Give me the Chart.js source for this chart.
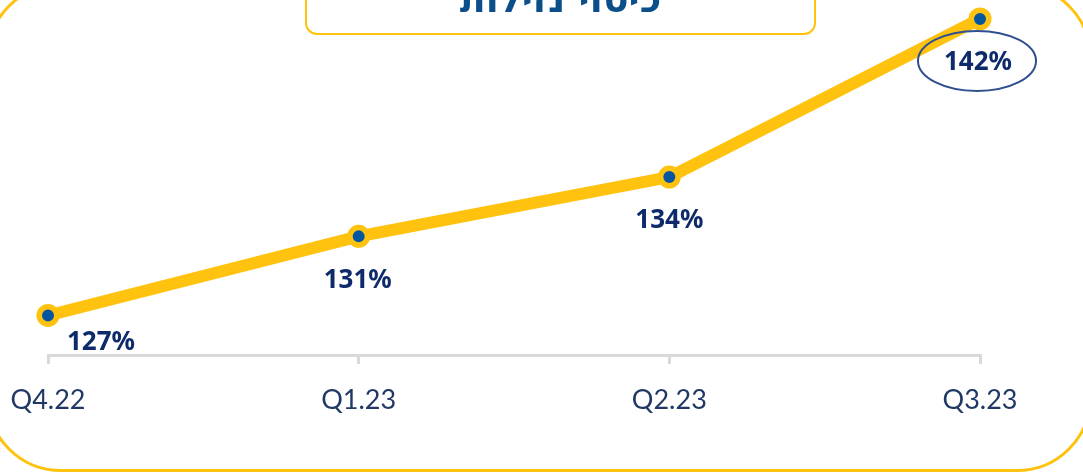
<!DOCTYPE html>
<html>
<head>
<meta charset="utf-8">
<script src="https://cdn.jsdelivr.net/npm/chart.js@4.4.0/dist/chart.umd.min.js"></script>
<style>
  html, body { margin:0; padding:0; background:#fff; width:1083px; height:472px; overflow:hidden; position:relative; }
  #frame { position:absolute; left:-14px; top:-17px; width:1106px; height:489px; border:3px solid #FFC20E; border-radius:75px; box-sizing:border-box; }
  #titlebox { position:absolute; left:305px; top:-20px; width:511px; height:55px; border:2.5px solid #FFC20E; border-radius:12px; box-sizing:border-box; background:#fff; }
  #title { position:absolute; left:305px; width:511px; top:-24px; text-align:center; font-family:"DejaVu Sans", "Liberation Sans", sans-serif; font-weight:bold; font-size:38px; color:#0B4F8A; direction:rtl; line-height:46px; }
  #wrap { position:absolute; left:0; top:0; width:1083px; height:472px; }
</style>
</head>
<body>
<div id="frame"></div>
<div id="wrap"><canvas id="c" width="1083" height="472"></canvas></div>
<div id="titlebox"></div>
<div id="title">כיסוי נזילות</div>
<script>
const categories = ["Q4.22", "Q1.23", "Q2.23", "Q3.23"];
const coverageValues = [127, 131, 134, 142];
const valueLabels = ["127%", "131%", "134%", "142%"];

const labelOffsets = [[53, 27], [-1, 44], [0, 44], [-2, 44]];
const YELLOW = "#FFC20E";

const valueLabelPlugin = {
  id: "valueLabels",
  afterDatasetsDraw(chart) {
    const ctx = chart.ctx;
    const meta = chart.getDatasetMeta(0);
    ctx.save();
    ctx.font = "bold 26px 'Noto Sans', sans-serif";
    ctx.fillStyle = "#0D2A6B";
    ctx.textAlign = "center";
    ctx.textBaseline = "middle";
    meta.data.forEach((pt, i) => {
      const x = pt.x + labelOffsets[i][0];
      const y = pt.y + labelOffsets[i][1];
      ctx.fillText(valueLabels[i], x, y);
      if (i === meta.data.length - 1) {
        ctx.beginPath();
        ctx.ellipse(x - 1, y - 2, 59, 30, 0, 0, Math.PI * 2);
        ctx.lineWidth = 2;
        ctx.strokeStyle = "#2F4F8F";
        ctx.stroke();
      }
    });
    ctx.restore();
  }
};

new Chart(document.getElementById("c"), {
  type: "line",
  data: {
    labels: categories,
    datasets: [{
      data: coverageValues,
      borderColor: YELLOW,
      borderWidth: 12,
      tension: 0,
      pointRadius: 8.75,
      pointBorderWidth: 5.5,
      pointBackgroundColor: "#0556A0",
      pointBorderColor: YELLOW,
      clip: false
    }]
  },
  options: {
    responsive: false,
    animation: false,
    events: [],
    layout: { autoPadding: false, padding: { left: 48, right: 103, top: 9, bottom: 0 } },
    plugins: { legend: { display: false }, tooltip: { enabled: false } },
    scales: {
      y: { display: false, min: 125, max: 142.5 },
      x: {
        offset: false,
        afterFit(scale) { scale.height = 117; scale.paddingLeft = 0; scale.paddingRight = 0; },
        border: { display: true, color: "#D9D9D9", width: 3 },
        grid: { display: true, drawOnChartArea: false, drawTicks: true, tickLength: 9, color: "#D9D9D9", lineWidth: 3 },
        ticks: {
          color: "#203864",
          padding: 20,
          maxRotation: 0,
          autoSkip: false,
          font: { family: "Lato, 'Open Sans', sans-serif", size: 27, weight: "400" }
        }
      }
    }
  },
  plugins: [valueLabelPlugin]
});
</script>
</body>
</html>
